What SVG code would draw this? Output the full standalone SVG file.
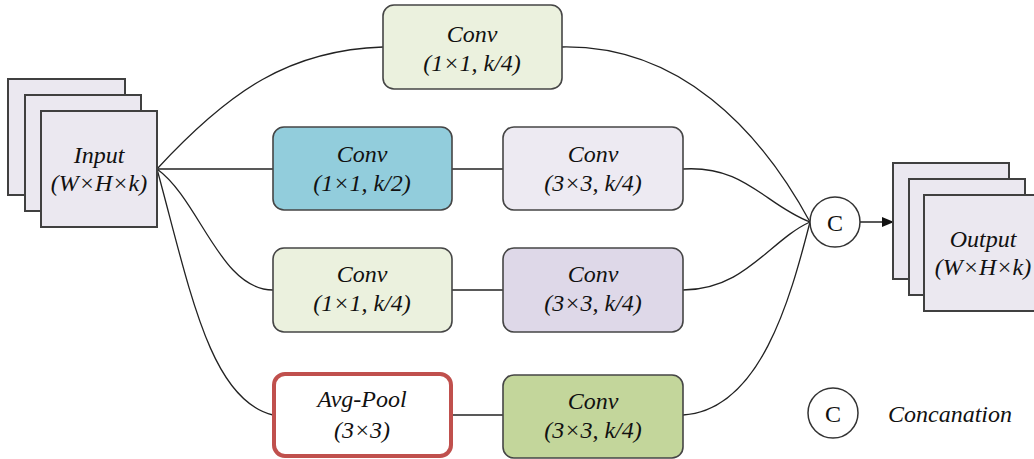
<svg xmlns="http://www.w3.org/2000/svg" width="1034" height="459" viewBox="0 0 1034 459">
<defs>
<marker id="arr" markerWidth="12" markerHeight="10" refX="11" refY="5" orient="auto" markerUnits="userSpaceOnUse">
<path d="M0,0 L12,5 L0,10 Z" fill="#111"/>
</marker>
<style>
.t{font-family:"Liberation Serif","Times New Roman",serif;font-style:italic;font-size:24px;fill:#111;text-anchor:middle;dominant-baseline:central}
.box{stroke:#454545;stroke-width:1.6}
.sheet{fill:#EBE8F0;stroke:#404040;stroke-width:2}
.ln{fill:none;stroke:#222;stroke-width:1.3}
.circ{fill:#fff;stroke:#333;stroke-width:1.5}
.c{font-family:"Liberation Serif","Times New Roman",serif;font-size:24px;fill:#111;text-anchor:middle;dominant-baseline:central}
</style>
</defs>
<rect width="1034" height="459" fill="#fff"/>
<g id="connectors">
<path class="ln" d="M157,169 C230,90 290,50 383,47"/>
<path class="ln" d="M157,169 L273,169"/>
<path class="ln" d="M157,169 C200,200 220,290 273,290"/>
<path class="ln" d="M157,169 C190,290 210,400 273,415"/>
<path class="ln" d="M452,169 L503,169"/>
<path class="ln" d="M452,290 L503,290"/>
<path class="ln" d="M452,415 L503,415"/>
<path class="ln" d="M562,47 C680,45 760,130 810,222"/>
<path class="ln" d="M683,169 C745,165 765,205 810,222"/>
<path class="ln" d="M683,290 C745,290 770,240 810,222"/>
<path class="ln" d="M683,415 C760,410 790,300 810,222"/>
<path class="ln" d="M860,222 L893,222" marker-end="url(#arr)"/>
</g>
<g id="input">
<rect class="sheet" x="8" y="79" width="117" height="116"/>
<rect class="sheet" x="25" y="95" width="116" height="116"/>
<rect class="sheet" x="41" y="111" width="116" height="116"/>
<text class="t" x="99" y="155">Input</text>
<text class="t" x="99" y="183">(W×H×k)</text>
</g>
<g id="conv-top">
<rect class="box" x="383" y="5" width="179" height="84" rx="11" fill="#EBF1DE"/>
<text class="t" x="472" y="34">Conv</text>
<text class="t" x="472" y="63">(1×1, k/4)</text>
</g>
<g id="conv-r2a">
<rect class="box" x="273" y="127" width="179" height="83" rx="11" fill="#92CDDC"/>
<text class="t" x="362" y="154">Conv</text>
<text class="t" x="362" y="183">(1×1, k/2)</text>
</g>
<g id="conv-r2b">
<rect class="box" x="503" y="127" width="180" height="83" rx="11" fill="#EDEAF2"/>
<text class="t" x="593" y="154">Conv</text>
<text class="t" x="593" y="183">(3×3, k/4)</text>
</g>
<g id="conv-r3a">
<rect class="box" x="273" y="248" width="179" height="84" rx="11" fill="#EBF1DE"/>
<text class="t" x="362" y="274">Conv</text>
<text class="t" x="362" y="303">(1×1, k/4)</text>
</g>
<g id="conv-r3b">
<rect class="box" x="503" y="248" width="180" height="84" rx="11" fill="#DED8E8"/>
<text class="t" x="593" y="274">Conv</text>
<text class="t" x="593" y="303">(3×3, k/4)</text>
</g>
<g id="avgpool">
<rect x="274" y="374" width="177" height="82" rx="11" fill="#fff" stroke="#C0504D" stroke-width="4"/>
<text class="t" x="362" y="399">Avg-Pool</text>
<text class="t" x="362" y="430">(3×3)</text>
</g>
<g id="conv-r4b">
<rect class="box" x="503" y="375" width="180" height="83" rx="11" fill="#C3D69B"/>
<text class="t" x="593" y="401">Conv</text>
<text class="t" x="593" y="430">(3×3, k/4)</text>
</g>
<g id="concat">
<circle class="circ" cx="835" cy="222" r="25"/>
<text class="c" x="835" y="223">C</text>
</g>
<g id="output">
<rect class="sheet" x="893" y="163" width="116" height="116"/>
<rect class="sheet" x="909" y="179" width="116" height="116"/>
<rect class="sheet" x="924" y="195" width="116" height="116"/>
<text class="t" x="983" y="239">Output</text>
<text class="t" x="983" y="267">(W×H×k)</text>
</g>
<g id="legend">
<circle class="circ" cx="833" cy="413" r="25"/>
<text class="c" x="833" y="414">C</text>
<text class="t" x="888" y="414" style="text-anchor:start">Concanation</text>
</g>
</svg>
